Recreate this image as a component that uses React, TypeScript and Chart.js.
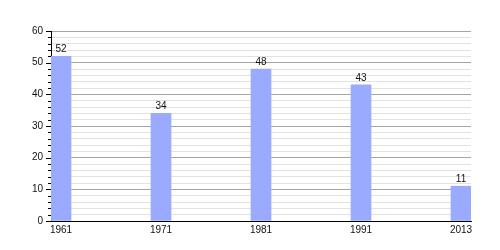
import React, { useEffect, useRef } from "react";
import { Chart, registerables } from "chart.js";

Chart.register(...registerables);

const categories = ["1961", "1971", "1981", "1991", "2013"];
const values = [52, 34, 48, 43, 11];
const yTickLabels = [0, 10, 20, 30, 40, 50, 60];

const FONT = "Liberation Sans, Arial, sans-serif";

const valueLabels = {
  id: "valueLabels",
  afterDatasetsDraw(chart: any) {
    const ctx = chart.ctx;
    const meta = chart.getDatasetMeta(0);
    ctx.save();
    ctx.font = `10px ${FONT}`;
    ctx.fillStyle = "#111";
    ctx.textAlign = "center";
    ctx.textBaseline = "alphabetic";
    meta.data.forEach((el: any, i: number) => {
      ctx.fillText(String(values[i]), el.x, el.y - 4);
    });
    ctx.restore();
  },
};

const yTickMarks = {
  id: "yTickMarks",
  afterDraw(chart: any) {
    const ctx = chart.ctx;
    const y = chart.scales.y;
    const left = chart.chartArea.left;
    ctx.save();
    ctx.strokeStyle = "#000";
    ctx.lineWidth = 1;
    for (let v = 0; v <= 60; v += 2) {
      const py = Math.round(y.getPixelForValue(v)) + 0.5;
      const len = v % 10 === 0 ? 5 : 3;
      ctx.beginPath();
      ctx.moveTo(left - len, py);
      ctx.lineTo(left, py);
      ctx.stroke();
    }
    ctx.restore();
  },
};

export default function App() {
  const ref = useRef<HTMLCanvasElement>(null);
  useEffect(() => {
    document.body.style.margin = "0";
    const chart = new Chart(ref.current!, {
      type: "bar",
      data: {
        datasets: [
          {
            data: values.map((v, i) => ({ x: i, y: v })),
            backgroundColor: "#99aaff",
            barThickness: 20,
          },
        ],
      },
      options: {
        animation: false,
        responsive: false,
        layout: { padding: { top: 31, right: 29, left: 0, bottom: 0 } },
        plugins: { legend: { display: false }, tooltip: { enabled: false } },
        scales: {
          x: {
            type: "linear",
            offset: false,
            min: -0.1,
            max: 4.1,
            afterBuildTicks: (s: any) => {
              s.ticks = categories.map((_, i) => ({ value: i }));
            },
            afterFit: (s: any) => {
              s.height = 29;
            },
            grid: { display: false, drawTicks: false, offset: false },
            border: { display: true, color: "#000", width: 1 },
            ticks: {
              padding: 3,
              autoSkip: false,
              maxRotation: 0,
              color: "#111",
              font: { family: FONT, size: 10 },
              callback: (v: any) => categories[v] ?? "",
            },
          },
          y: {
            min: 0,
            max: 60,
            afterBuildTicks: (s: any) => {
              const t: any[] = [];
              for (let v = 0; v <= 60; v += 2) t.push({ value: v });
              s.ticks = t;
            },
            afterFit: (s: any) => {
              s.width = 51;
            },
            grid: {
              drawTicks: false,
              color: (c: any) =>
                c.tick && c.tick.value % 10 === 0 ? "#a6a6a6" : "#e2e2e2",
            },
            border: { display: true, color: "#000", width: 1 },
            ticks: {
              padding: 8,
              autoSkip: false,
              color: "#111",
              font: { family: FONT, size: 10 },
              callback: (v: any) =>
                yTickLabels.includes(v) ? String(v) : "",
            },
          },
        },
      },
      plugins: [valueLabels, yTickMarks],
    });
    return () => chart.destroy();
  }, []);
  return (
    <div style={{ width: 500, height: 250 }}>
      <canvas ref={ref} width={500} height={250} />
    </div>
  );
}
